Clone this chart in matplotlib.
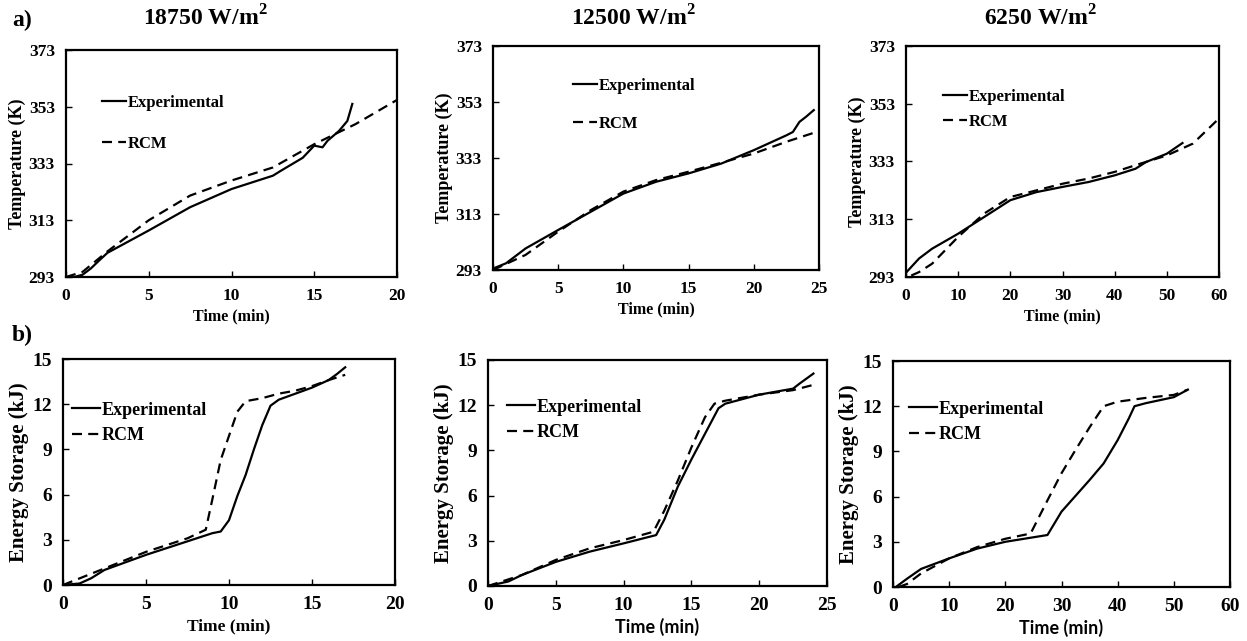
import numpy as np
import matplotlib
matplotlib.use("Agg")
import matplotlib.pyplot as plt

# 温度曲线 (a)
t_a1_exp = [0.5, 1.0, 1.5, 2.0, 2.5, 5.0, 7.5, 10.0, 12.5, 13.0, 14.3, 15.0, 15.5, 15.8, 16.5, 17.0, 17.3]
T_a1_exp = [293.0, 293.8, 296.0, 298.8, 301.5, 309.4, 317.6, 324.0, 328.7, 330.5, 335.0, 339.3, 338.7, 341.0, 344.5, 348.0, 354.0]
t_a1_rcm = [0.0, 1.0, 2.5, 5.0, 7.5, 10.0, 12.5, 15.0, 17.5, 20.0]
T_a1_rcm = [293.0, 294.8, 302.0, 313.0, 321.7, 327.0, 331.6, 339.8, 346.9, 355.4]

t_a2_exp = [0.0, 1.0, 2.5, 5.0, 7.5, 10.0, 12.5, 15.0, 17.5, 20.0, 22.5, 23.0, 23.5, 24.0, 24.6]
T_a2_exp = [293.5, 295.4, 300.7, 307.3, 313.8, 320.3, 324.5, 327.5, 331.0, 335.8, 341.1, 342.3, 345.9, 347.7, 350.1]
t_a2_rcm = [0.0, 2.5, 5.0, 7.5, 10.0, 12.5, 15.0, 17.5, 20.0, 22.5, 25.0]
T_a2_rcm = [293.0, 298.4, 306.7, 314.4, 321.0, 325.1, 328.1, 331.3, 334.6, 338.8, 342.6]

t_a3_exp = [0.0, 2.5, 5.0, 10.0, 15.0, 20.0, 25.0, 30.0, 35.0, 40.0, 44.0, 46.0, 50.0, 53.0]
T_a3_exp = [294.5, 299.4, 302.8, 308.0, 313.8, 319.6, 322.4, 324.2, 325.9, 328.2, 330.5, 332.8, 335.7, 339.4]
t_a3_rcm = [1.0, 2.5, 5.0, 10.0, 15.0, 20.0, 25.0, 30.0, 35.0, 40.0, 45.0, 50.0, 55.0, 60.0]
T_a3_rcm = [293.5, 294.7, 297.6, 306.9, 315.0, 320.7, 323.0, 325.3, 327.1, 329.4, 332.3, 335.1, 339.2, 347.9]

# 储能曲线 (b)
t_b1_exp = [0.0, 1.0, 1.7, 2.5, 5.0, 7.5, 9.0, 9.5, 10.0, 10.5, 11.0, 11.5, 12.0, 12.5, 13.0, 14.0, 15.0, 16.0, 16.5, 17.0]
E_b1_exp = [0.0, 0.1, 0.45, 1.0, 2.0, 2.9, 3.44, 3.55, 4.3, 5.9, 7.3, 9.0, 10.6, 11.9, 12.3, 12.7, 13.1, 13.6, 14.0, 14.45]
t_b1_rcm = [0.0, 2.5, 5.0, 7.5, 8.6, 9.0, 9.5, 10.0, 10.5, 11.0, 12.0, 13.0, 14.0, 15.0, 16.0, 17.0]
E_b1_rcm = [0.0, 1.1, 2.2, 3.1, 3.67, 5.7, 8.3, 9.9, 11.5, 12.2, 12.4, 12.7, 12.9, 13.2, 13.6, 13.95]

t_b2_exp = [0.0, 1.5, 2.5, 5.0, 7.5, 10.0, 12.4, 13.0, 14.0, 15.0, 16.0, 17.0, 17.5, 20.0, 22.5, 23.0, 24.0]
E_b2_exp = [0.0, 0.3, 0.73, 1.6, 2.28, 2.83, 3.38, 4.4, 6.6, 8.4, 10.1, 11.8, 12.1, 12.7, 13.1, 13.45, 14.1]
t_b2_rcm = [0.0, 2.5, 5.0, 7.5, 10.0, 12.2, 13.0, 14.0, 15.0, 16.0, 16.7, 17.5, 20.0, 22.5, 24.0]
E_b2_rcm = [0.0, 0.73, 1.73, 2.5, 3.05, 3.6, 5.0, 7.0, 9.2, 11.2, 12.1, 12.3, 12.7, 13.0, 13.35]

t_b3_exp = [0.5, 2.5, 5.0, 10.0, 15.0, 20.0, 25.0, 27.5, 30.0, 35.0, 37.5, 40.0, 42.0, 43.0, 45.0, 50.0, 52.5]
E_b3_exp = [0.0, 0.55, 1.2, 1.9, 2.55, 3.0, 3.3, 3.45, 5.0, 7.1, 8.2, 9.75, 11.2, 12.0, 12.2, 12.6, 13.1]
t_b3_rcm = [1.0, 2.5, 5.0, 10.0, 15.0, 20.0, 24.5, 27.5, 30.0, 32.5, 35.0, 37.5, 40.0, 45.0, 50.0, 52.5]
E_b3_rcm = [0.0, 0.2, 0.9, 1.9, 2.65, 3.2, 3.55, 5.75, 7.55, 9.1, 10.6, 12.0, 12.3, 12.55, 12.75, 13.1]

titles = ["18750 W/m$^\\mathbf{2}$", "12500 W/m$^\\mathbf{2}$", "6250 W/m$^\\mathbf{2}$"]

W, H = 1247, 641
fig = plt.figure(figsize=(W / 100, H / 100), dpi=100)
plt.rcParams['font.family'] = ['Liberation Serif', 'DejaVu Serif']
plt.rcParams['font.weight'] = 'bold'
plt.rcParams['mathtext.fontset'] = 'custom'
plt.rcParams['mathtext.bf'] = 'Liberation Serif:bold'
plt.rcParams['mathtext.rm'] = 'Liberation Serif:bold'


def px_axes(x0, y0, x1, y1):
    return fig.add_axes([x0 / W, 1 - y1 / H, (x1 - x0) / W, (y1 - y0) / H])


def px(x, y):
    return (x / W, 1 - y / H)


def style(ax, fs):
    for s in ax.spines.values():
        s.set_linewidth(1.6)
    ax.tick_params(direction='in', length=4, width=1, labelsize=fs, pad=8)
    for lab in ax.get_xticklabels() + ax.get_yticklabels():
        lab.set_fontweight('bold')


# a 行
boxes_a = [(66, 50, 397, 277), (493, 46, 819, 270), (906, 46, 1219, 277)]
data_a = [(t_a1_exp, T_a1_exp, t_a1_rcm, T_a1_rcm, 20, 5),
          (t_a2_exp, T_a2_exp, t_a2_rcm, T_a2_rcm, 25, 5),
          (t_a3_exp, T_a3_exp, t_a3_rcm, T_a3_rcm, 60, 10)]
leg_a = [(102, 105, 1.5), (573, 88, 1.35), (943, 99, 0.55)]
title_x = [205, 633, 1040]

for i in range(3):
    ax = px_axes(*boxes_a[i])
    te, Te, tr, Tr, xmax, xstep = data_a[i]
    ax.plot(te, Te, color='black', lw=1.6, label='Experimental')
    ax.plot(tr, Tr, color='black', lw=1.6, ls=(0, (4.5, 2.8)), label='RCM')
    ax.set_xlim(0, xmax)
    ax.set_ylim(293, 373)
    ax.set_xticks(np.arange(0, xmax + 0.1, xstep))
    ax.set_yticks([293, 313, 333, 353, 373])
    style(ax, 12.5)
    ax.set_xlabel('Time (min)', fontsize=11.5, fontweight='bold', labelpad=3)
    ax.set_ylabel('Temperature (K)', fontsize=13, fontweight='bold', labelpad=2)
    lx, ly, sp = leg_a[i]
    fs = 12
    ax.legend(loc='upper left', bbox_to_anchor=px(lx, ly - 0.62 * fs * 1.39),
              bbox_transform=fig.transFigure, frameon=False, borderpad=0,
              borderaxespad=0, handlelength=1.45, handletextpad=0.1,
              labelspacing=sp, prop={'family': 'Liberation Serif', 'weight': 'bold', 'size': fs})
    fig.text(*px(title_x[i], 18), titles[i], ha='center', va='center',
             fontsize=17, fontweight='bold')

fig.text(*px(12, 20), 'a)', ha='left', va='center', fontsize=17, fontweight='bold')
fig.text(*px(12, 335), 'b)', ha='left', va='center', fontsize=17, fontweight='bold')

# b 行
boxes_b = [(63, 359, 395, 585), (488, 360, 827, 586), (893, 361, 1230, 587)]
data_b = [(t_b1_exp, E_b1_exp, t_b1_rcm, E_b1_rcm, 20, 5),
          (t_b2_exp, E_b2_exp, t_b2_rcm, E_b2_rcm, 25, 5),
          (t_b3_exp, E_b3_exp, t_b3_rcm, E_b3_rcm, 60, 10)]
leg_b = [(72, 413), (507, 410), (909, 412)]

for i in range(3):
    ax = px_axes(*boxes_b[i])
    te, Ee, tr, Er, xmax, xstep = data_b[i]
    ax.plot(te, Ee, color='black', lw=1.6, label='Experimental')
    ax.plot(tr, Er, color='black', lw=1.6, ls=(0, (4.5, 2.8)), label='RCM')
    ax.set_xlim(0, xmax)
    ax.set_ylim(0, 15)
    ax.set_xticks(np.arange(0, xmax + 0.1, xstep))
    ax.set_yticks([0, 3, 6, 9, 12, 15])
    style(ax, 14)
    if i == 0:
        ax.set_xlabel('Time (min)', fontsize=12.5, fontweight='bold', labelpad=4)
    else:
        ax.set_xlabel('Time (min)', fontsize=13, fontweight='bold', labelpad=3,
                      family=['Lato', 'DejaVu Sans'])
    ax.set_ylabel('Energy Storage (kJ)', fontsize=15, fontweight='bold', labelpad=2)
    lx, ly = leg_b[i]
    fs = 13
    ax.legend(loc='upper left', bbox_to_anchor=px(lx, ly - 0.62 * fs * 1.39),
              bbox_transform=fig.transFigure, frameon=False, borderpad=0,
              borderaxespad=0, handlelength=1.55, handletextpad=0.1,
              labelspacing=0.45, prop={'family': 'Liberation Serif', 'weight': 'bold', 'size': fs})

fig.savefig('out.png', dpi=100)
